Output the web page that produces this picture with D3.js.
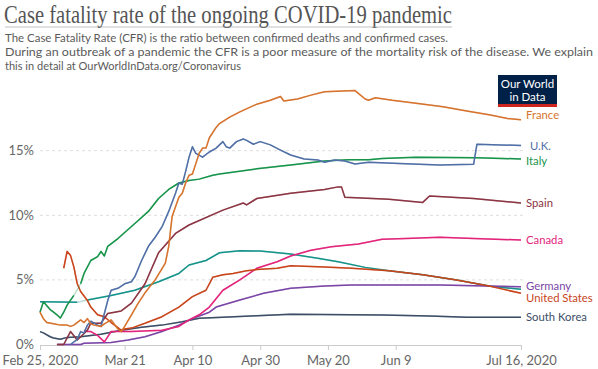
<!DOCTYPE html>
<html>
<head>
<meta charset="utf-8">
<script src="https://cdn.jsdelivr.net/npm/d3@7"></script>
<style>
    body { margin: 0; background: #fff; }
    svg { display: block; font-family: Lato, "Open Sans", sans-serif; }
</style>
</head>
<body>
<svg id="chart" width="598" height="369"></svg>
<script>
//case fatality rate (%) per country
//null = missing day (drawn faint)
var franceData = [["02-25",2.5],["02-26",2.0],["02-27",1.7],["02-29",1.6],["03-02",1.5],["03-04",1.5],["03-05",1.4],
    ["03-06",1.5],["03-08",1.9],["03-09",1.7],["03-10",2.0],["03-11",1.6],["03-12",1.5],["03-14",1.4],["03-15",1.6],
    ["03-17",1.9],["03-19",1.2],["03-20",1.0],["03-21",1.4],["03-23",2.3],["03-25",3.2],["03-27",4.0],["03-30",5.0],
    ["04-02",6.3],["04-03",7.6],["04-04",9.9],["04-06",11.4],["04-07",11.7],["04-08",12.5],["04-09",13.1],["04-10",13.2],
    ["04-11",14.0],["04-12",14.8],["04-13",15.2],["04-14",15.2],["04-15",16.0],["04-17",16.8],["04-18",17.1],["04-21",17.6],
    ["04-24",18.0],["04-29",18.6],["05-03",18.9],["05-06",19.2],["05-07",18.85],["05-11",19.0],["05-15",19.3],["05-19",19.57],
    ["05-28",19.65],["05-31",19.0],["06-01",18.9],["06-03",19.1],["06-08",18.9],["06-15",18.67],["06-23",18.4],["06-30",18.07],
    ["07-07",17.76],["07-12",17.5],["07-16",17.4]];

var ukData = [["03-05",0],["03-07",0.4],["03-08",1.0],["03-09",0.9],["03-10",1.5],["03-11",1.8],["03-13",1.5],["03-14",1.4],
    ["03-15",2.4],["03-16",3.4],["03-17",4.2],["03-19",4.35],["03-21",4.7],["03-23",4.86],["03-24",5.25],["03-26",6.5],
    ["03-28",7.6],["03-30",8.3],["04-01",9.1],["04-03",10.3],["04-05",11.7],["04-06",12.5],["04-07",12.4],["04-08",13.4],
    ["04-09",14.5],["04-10",15.3],["04-11",14.8],["04-13",14.5],["04-15",14.9],["04-17",15.2],["04-19",15.7],["04-20",15.3],
    ["04-21",15.2],["04-23",15.7],["04-25",15.9],["04-26",15.8],["04-28",15.5],["04-30",15.7],["05-03",15.45],["05-06",15.05],
    ["05-09",14.67],["05-13",14.36],["05-17",14.28],["05-19",14.1],["05-22",14.28],["05-25",14.2],["05-28",13.97],["06-01",14.1],
    ["06-10",14.0],["06-22",13.9],["07-02",13.95],["07-03",15.5],["07-10",15.45],["07-16",15.4]];

var italyData = [["02-25",2.5],["02-26",3.3],["02-28",2.7],["02-29",2.5],["03-01",2.3],["03-02",2.05],["03-03",2.5],
    ["03-04",3.05],["03-06",3.8],["03-07",null],["03-08",4.7],["03-09",5.5],["03-11",6.5],["03-13",6.8],["03-14",7.2],
    ["03-15",6.85],["03-16",7.6],["03-19",8.2],["03-22",8.9],["03-25",9.6],["03-28",10.3],["03-31",11.3],["04-03",12.0],
    ["04-06",12.5],["04-09",12.7],["04-12",12.8],["04-16",13.1],["04-18",13.2],["04-29",13.6],["05-09",13.9],["05-19",14.2],
    ["05-26",14.3],["06-01",14.3],["06-05",14.4],["06-15",14.5],["07-03",14.46],["07-16",14.36]];

var spainData = [["03-01",0],["03-03",0],["03-05",1.0],["03-07",0.35],["03-10",1.1],["03-11",1.65],["03-14",1.65],
    ["03-16",2.4],["03-18",2.5],["03-20",2.6],["03-23",3.2],["03-27",4.7],["03-31",7.1],["04-05",8.6],["04-09",9.25],
    ["04-19",10.4],["04-25",10.95],["04-26",10.8],["04-29",11.3],["05-09",11.7],["05-19",12.0],["05-23",12.2],["05-24",12.2],
    ["05-25",11.4],["06-07",11.25],["06-17",11.0],["06-19",11.5],["07-02",11.3],["07-16",10.95]];

var canadaData = [["03-09",1.1],["03-10",1.0],["03-11",1.0],["03-13",0.7],["03-15",0.2],["03-17",1.0],["03-23",1.0],
    ["04-01",1.1],["04-06",1.4],["04-09",1.9],["04-12",2.3],["04-15",2.9],["04-19",4.2],["04-24",5.0],["04-29",5.9],
    ["05-05",6.4],["05-09",6.85],["05-15",7.3],["05-21",7.57],["05-29",7.78],["06-05",8.14],["06-12",8.2],["06-22",8.3],
    ["07-02",8.2],["07-16",8.09]];

var germanyData = [["03-01",0],["03-08",0],["03-09",0.1],["03-17",0.15],["03-22",0.35],["03-27",0.6],["04-01",1.0],
    ["04-06",1.5],["04-10",2.0],["04-15",2.5],["04-17",2.9],["04-24",3.44],["05-01",3.96],["05-09",4.35],["05-19",4.53],
    ["05-27",4.6],["06-22",4.6],["07-16",4.47]];

var usData = [["03-03",5.9],["03-04",7.2],["03-05",6.9],["03-06",6.0],["03-07",4.7],["03-08",4.1],["03-10",3.4],
    ["03-11",2.9],["03-13",2.3],["03-15",2.15],["03-17",1.7],["03-19",1.3],["03-20",1.1],["03-21",1.2],["03-23",1.27],
    ["03-27",1.64],["04-01",2.15],["04-06",2.9],["04-10",3.7],["04-14",4.2],["04-16",5.2],["04-19",5.4],["04-22",5.5],
    ["04-26",5.7],["04-29",5.8],["05-05",5.9],["05-09",6.1],["05-19",6.0],["05-27",5.9],["06-07",5.7],["06-17",5.4],
    ["06-27",5.0],["07-07",4.5],["07-16",3.96]];

var koreaData = [["02-25",1.0],["02-26",0.9],["02-28",0.6],["02-29",0.5],["03-02",0.4],["03-04",0.55],["03-08",0.6],
    ["03-14",0.8],["03-20",1.1],["03-26",1.33],["04-01",1.5],["04-07",1.76],["04-12",2.03],["04-19",2.1],["04-29",2.23],
    ["05-09",2.34],["06-05",2.28],["06-19",2.2],["06-30",2.1],["07-16",2.1]];

//teal line without an end label (world total)
var worldData = [["02-25",3.3],["03-07",3.27],["03-08",null],["03-10",3.45],["03-17",3.8],["03-24",4.2],["03-31",4.86],
    ["04-06",5.5],["04-09",6.15],["04-14",6.5],["04-18",7.1],["04-24",7.26],["04-30",7.24],["05-09",7.0],["05-17",6.67],
    ["05-23",6.4],["05-31",5.97],["06-07",5.7],["06-17",5.4],["06-27",5.0],["07-07",4.5],["07-16",4.27]];

var xTickDates = ["02-25","03-21","04-10","04-30","05-20","06-09","07-16"];
var yTicks = [0, 5, 10, 15];

var subtitleLines = [
    "The Case Fatality Rate (CFR) is the ratio between confirmed deaths and confirmed cases.",
    "During an outbreak of a pandemic the CFR is a poor measure of the mortality risk of the disease. We explain",
    "this in detail at OurWorldInData.org/Coronavirus"
];
//measured line widths in the reference
var subtitleWidths = [443, 588, 236];

////////////////////////////////////////////////////////////////////////////////////////////////////

var parseDate = d3.timeParse("%Y-%m-%d");

function toPoints(arr) {
    return arr.map(function (d) {
        return {date: parseDate("2020-" + d[0]), value: d[1]};
    });
}

//draw order: first ones end up underneath
var series = [
    {name: "", color: "#15938a", data: worldData},
    {name: "South Korea", color: "#3c4e66", data: koreaData},
    {name: "Germany", color: "#7b46a6", data: germanyData, nudge: -1},
    {name: "Canada", color: "#e2257b", data: canadaData},
    {name: "United States", color: "#c8451b", data: usData, nudge: 4.5},
    {name: "Spain", color: "#8b3442", data: spainData},
    {name: "Italy", color: "#16944a", data: italyData, nudge: 2},
    {name: "U.K.", color: "#4f6fa6", data: ukData, dx: 4},
    {name: "France", color: "#d6732e", data: franceData, nudge: -5}
];

var svg = d3.select("#chart");

var x = d3.scaleTime()
    .domain([parseDate("2020-02-25"), parseDate("2020-07-16")])
    .range([40, 521]);

var y = d3.scaleLinear()
    .domain([0, 20])
    .range([344.5, 86.1]);

//title + subtitle
svg.append("text")
    .attr("x", 4)
    .attr("y", 23)
    .attr("textLength", 448)
    .attr("lengthAdjust", "spacingAndGlyphs")
    .style("font-family", "'Liberation Serif', serif")
    .style("font-size", "26px")
    .attr("fill", "#555")
    .text("Case fatality rate of the ongoing COVID-19 pandemic");

svg.append("line")
    .attr("x1", 5).attr("x2", 452)
    .attr("y1", 27).attr("y2", 27)
    .attr("stroke", "#999")
    .attr("stroke-width", 0.6);

svg.selectAll(".subtitle")
    .data(subtitleLines)
    .enter().append("text")
    .attr("class", "subtitle")
    .attr("x", 5)
    .attr("y", function (d, i) { return 42 + i * 14; })
    .attr("textLength", function (d, i) { return subtitleWidths[i]; })
    .attr("lengthAdjust", "spacingAndGlyphs")
    .style("font-size", "12.2px")
    .attr("fill", "#5b5b5b")
    .text(function (d) { return d; });

//logo
var logo = svg.append("g");
logo.append("rect")
    .attr("x", 498).attr("y", 75)
    .attr("width", 59).attr("height", 32)
    .attr("fill", "#002147");
logo.append("rect")
    .attr("x", 498).attr("y", 104)
    .attr("width", 59).attr("height", 3)
    .attr("fill", "#ce261e");
logo.selectAll(".logotext")
    .data(["Our World", "in Data"])
    .enter().append("text")
    .attr("x", 527.5)
    .attr("y", function (d, i) { return 88 + i * 12.5; })
    .attr("text-anchor", "middle")
    .style("font-size", "11.5px")
    .attr("fill", "#fff")
    .text(function (d) { return d; });

//gridlines
svg.selectAll(".grid")
    .data(yTicks.filter(function (d) { return d > 0; }))
    .enter().append("line")
    .attr("class", "grid")
    .attr("x1", 40).attr("x2", 524)
    .attr("y1", function (d) { return y(d); })
    .attr("y2", function (d) { return y(d); })
    .attr("stroke", "#ddd")
    .attr("stroke-dasharray", "3,3");

//y labels
svg.selectAll(".ylabel")
    .data(yTicks)
    .enter().append("text")
    .attr("class", "ylabel")
    .attr("x", 34)
    .attr("y", function (d) { return y(d) + 4.5; })
    .attr("text-anchor", "end")
    .style("font-size", "13px")
    .attr("fill", "#666")
    .text(function (d) { return d + "%"; });

//x axis
var xTicks = xTickDates.map(function (d) { return parseDate("2020-" + d); });
var fmtShort = d3.timeFormat("%b %-d");
var fmtLong = d3.timeFormat("%b %-d, %Y");

var axis = svg.append("g")
    .attr("transform", "translate(0,345)")
    .call(d3.axisBottom(x)
        .tickValues(xTicks)
        .tickSize(5)
        .tickSizeOuter(0)
        .tickFormat(function (d, i) {
            return (i == 0 || i == xTicks.length - 1) ? fmtLong(d) : fmtShort(d);
        }));
axis.select(".domain").attr("stroke", "#ccc");
axis.selectAll(".tick line").attr("stroke", "#ccc");
axis.selectAll(".tick text")
    .attr("fill", "#666")
    .attr("dy", "0.9em")
    .style("font-size", "13px")
    .style("font-family", "Lato, sans-serif");

//lines
var line = d3.line()
    .defined(function (d) { return d.value != null; })
    .x(function (d) { return x(d.date); })
    .y(function (d) { return y(d.value); });

series.forEach(function (s) {
    var pts = toPoints(s.data);

    //faint pass bridging missing days
    svg.append("path")
        .datum(pts.filter(function (d) { return d.value != null; }))
        .attr("fill", "none")
        .attr("stroke", s.color)
        .attr("stroke-width", 1.5)
        .attr("opacity", 0.3)
        .attr("d", line);

    svg.append("path")
        .datum(pts)
        .attr("fill", "none")
        .attr("stroke", s.color)
        .attr("stroke-width", 1.5)
        .attr("stroke-linejoin", "round")
        .attr("d", line);

    if (s.name) {
        var last = pts[pts.length - 1];
        svg.append("text")
            .attr("x", 526 + (s.dx || 0))
            .attr("y", y(last.value) + 4 + (s.nudge || 0))
            .style("font-size", "11.3px")
            .attr("fill", s.color)
            .text(s.name);
    }
});
</script>
</body>
</html>
